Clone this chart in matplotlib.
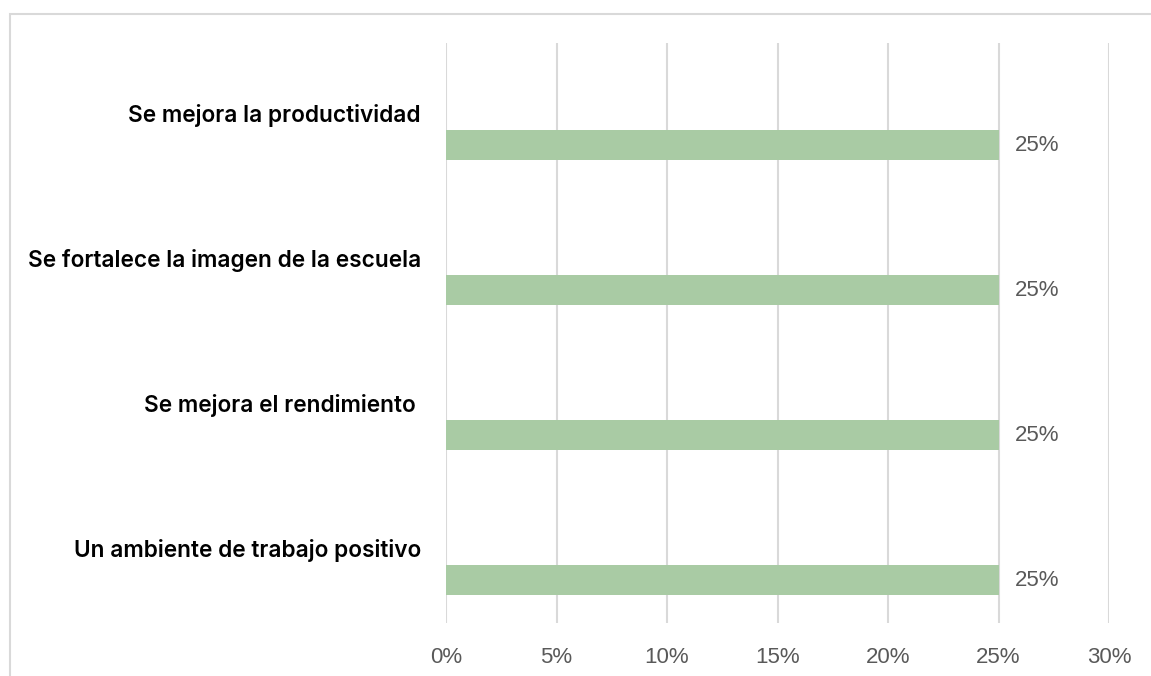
import matplotlib.pyplot as plt
from matplotlib.ticker import FuncFormatter
from matplotlib.patches import Rectangle

# categories, top to bottom
categorias = ['Se mejora la productividad',
              'Se fortalece la imagen de la escuela',
              'Se mejora el rendimiento ',
              'Un ambiente de trabajo positivo']
porcentajes = [0.25, 0.25, 0.25, 0.25]
ticks = [0, 0.05, 0.10, 0.15, 0.20, 0.25, 0.30]

BAR_COLOR = '#A9CBA4'
GRID_COLOR = '#D9D9D9'
TEXT_GRAY = '#595959'

fig = plt.figure(figsize=(11.51, 6.76), dpi=100)
W, H = 1151, 676

# light frame round the chart area (top and left edges visible)
fig.patches.append(Rectangle((10 / W, -0.05), 1.2, (676 - 14) / H + 0.05,
                             transform=fig.transFigure, fill=False,
                             edgecolor=GRID_COLOR, linewidth=1.5))

ax_w = 1109 - 446
ax = fig.add_axes([446 / W, (676 - 623) / H, ax_w / W, (623 - 43) / H])

pos = list(range(len(categorias)))
# bars sit in the lower half of each category band
offset = 0.205
ax.barh([p + offset for p in pos], porcentajes, height=0.207,
        color=BAR_COLOR, zorder=3)

for p, v, cat in zip(pos, porcentajes, categorias):
    ax.text(v + 0.0075, p + offset, f'{v:.0%}', va='center', ha='left',
            fontsize=16, color=TEXT_GRAY, family='Liberation Sans')
    ax.text(-25 / ax_w, p, cat, va='center', ha='right',
            fontsize=16.3, fontweight='semibold', color='black', family='Inter',
            transform=ax.get_yaxis_transform())

ax.set_xlim(0, 0.30)
ax.set_ylim(3.5, -0.5)
ax.set_xticks(ticks)
ax.xaxis.set_major_formatter(FuncFormatter(lambda x, _: f'{x:.0%}'))
ax.set_yticks([])
ax.tick_params(axis='x', length=0, pad=17, labelsize=16, labelcolor=TEXT_GRAY)
for lab in ax.get_xticklabels():
    lab.set_family('Liberation Sans')

ax.grid(axis='x', color=GRID_COLOR, linewidth=1.5, zorder=0)
for s in ax.spines.values():
    s.set_visible(False)

fig.savefig('out.png', dpi=100)
